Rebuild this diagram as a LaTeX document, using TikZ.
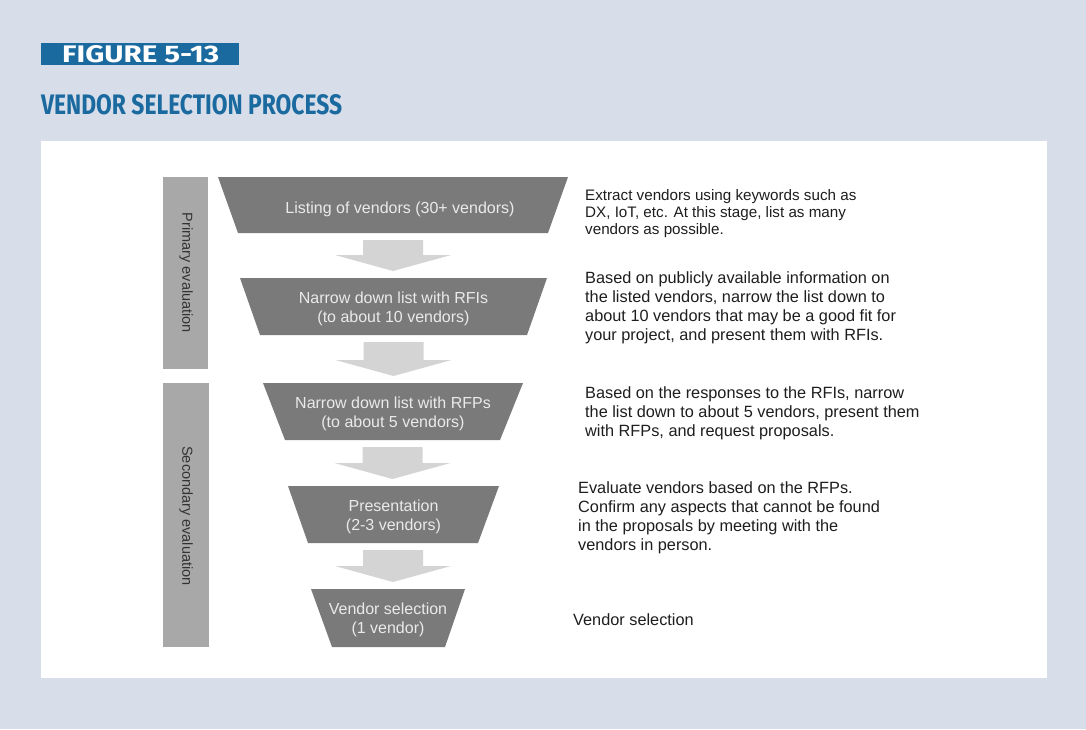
\documentclass[tikz,border=0pt]{standalone}
\usepackage{fontspec}
\setmainfont{Liberation Sans}
\newfontfamily\titlefont{Fira Sans}
\usetikzlibrary{calc}
\definecolor{bg}{HTML}{D7DEE9}
\definecolor{figblue}{HTML}{1A6AA0}
\definecolor{trapfill}{HTML}{7A7A7A}
\definecolor{sidefill}{HTML}{A8A8A8}
\definecolor{arrfill}{HTML}{D4D4D4}
\definecolor{traptxt}{HTML}{EAEAEA}
\definecolor{bodytxt}{HTML}{1E1E1E}
\tikzset{
  traptext/.style={inner sep=0pt, align=center, text=traptxt, font=\fontsize{16}{19}\selectfont},
  sidetext/.style={inner sep=0pt, rotate=-90, text=black!80, font=\fontsize{14.5}{17}\selectfont},
  desc/.style={inner sep=0pt, anchor=north west, align=left, text=bodytxt, font=\fontsize{16.3}{19}\selectfont},
  descsmall/.style={desc, font=\fontsize{15.2}{17}\selectfont},
}
% trapezoid: name, ytop, ybot, xtl, xtr, xbl, xbr, text (optional text shift)
\newcommand\trapz[9][0]{%
  \fill[trapfill] (#5,#3) -- (#6,#3) -- (#8,#4) -- (#7,#4) -- cycle;
  \coordinate (#2t) at ({(#5+#6)/2},#3);
  \coordinate (#2b) at ({(#7+#8)/2},#4);
  \node[traptext] (#2) at ({(#5+#6)/2},{(#3+#4)/2+2+#1}) {#9};}
% block arrow from bottom of one trapezoid to top of next
\newcommand\blockarrow[2]{%
  \coordinate (arrtip) at (#1 |- #2);
  \fill[arrfill] ([xshift=-30pt,yshift=-7pt]#1) -- ([xshift=30pt,yshift=-7pt]#1)
    -- ([xshift=30pt,yshift=23pt]arrtip) -- ([xshift=58pt,yshift=23pt]arrtip)
    -- ([yshift=7pt]arrtip) -- ([xshift=-58pt,yshift=23pt]arrtip)
    -- ([xshift=-30pt,yshift=23pt]arrtip) -- cycle;}
\begin{document}
\begin{tikzpicture}[x=1pt,y=-1pt]
\useasboundingbox (0,0) rectangle (1086,729);
\fill[bg] (0,0) rectangle (1086,729);
\fill[white] (41,141) rectangle (1047,678);
% header
\fill[figblue] (41,43) rectangle (239,65);
\node[anchor=south west, inner sep=0pt, text=white] (fig) at (62,63)
  {\resizebox{157pt}{17pt}{\titlefont\bfseries FIGURE 5-13}};
\node[anchor=south west, inner sep=0pt, text=figblue] (title) at (41,115)
  {\resizebox{301pt}{20pt}{\titlefont\bfseries VENDOR SELECTION PROCESS}};
% side bars
\fill[sidefill] (163,177) rectangle (208,369);
\node[sidetext] (prim) at (186,273) {Primary evaluation};
\fill[sidefill] (163,383) rectangle (209,647);
\node[sidetext] (sec) at (186,516) {Secondary evaluation};
% funnel
\trapz[2]{ta}{177}{233}{218}{568}{238}{548}{\hspace*{14pt}Listing of vendors (30+ vendors)}
\trapz{tb}{278}{335}{240}{547}{260}{527}{Narrow down list with RFIs\\(to about 10 vendors)}
\trapz{tc}{383}{440}{263}{523}{285}{500}{Narrow down list with RFPs\\(to about 5 vendors)}
\trapz{td}{486}{543}{288}{499}{308}{478}{Presentation\\(2-3 vendors)}
\trapz{te}{589}{647}{311}{465}{332}{445}{Vendor selection\\(1 vendor)}
\blockarrow{tab}{tbt}
\blockarrow{tbb}{tct}
\blockarrow{tcb}{tdt}
\blockarrow{tdb}{tet}
% descriptions
\node[descsmall] (da) at (585,189.5) {Extract vendors using keywords such as\\DX, IoT, etc. At this stage, list as many\\vendors as possible.};
\node[desc] (db) at (585,271) {Based on publicly available information on\\the listed vendors, narrow the list down to\\about 10 vendors that may be a good fit for\\your project, and present them with RFIs.};
\node[desc] (dc) at (585,386) {Based on the responses to the RFIs, narrow\\the list down to about 5 vendors, present them\\with RFPs, and request proposals.};
\node[desc] (dd) at (578,481) {Evaluate vendors based on the RFPs.\\Confirm any aspects that cannot be found\\in the proposals by meeting with the\\vendors in person.};
\node[desc] (de) at (573,613) {Vendor selection};
\end{tikzpicture}
\end{document}
